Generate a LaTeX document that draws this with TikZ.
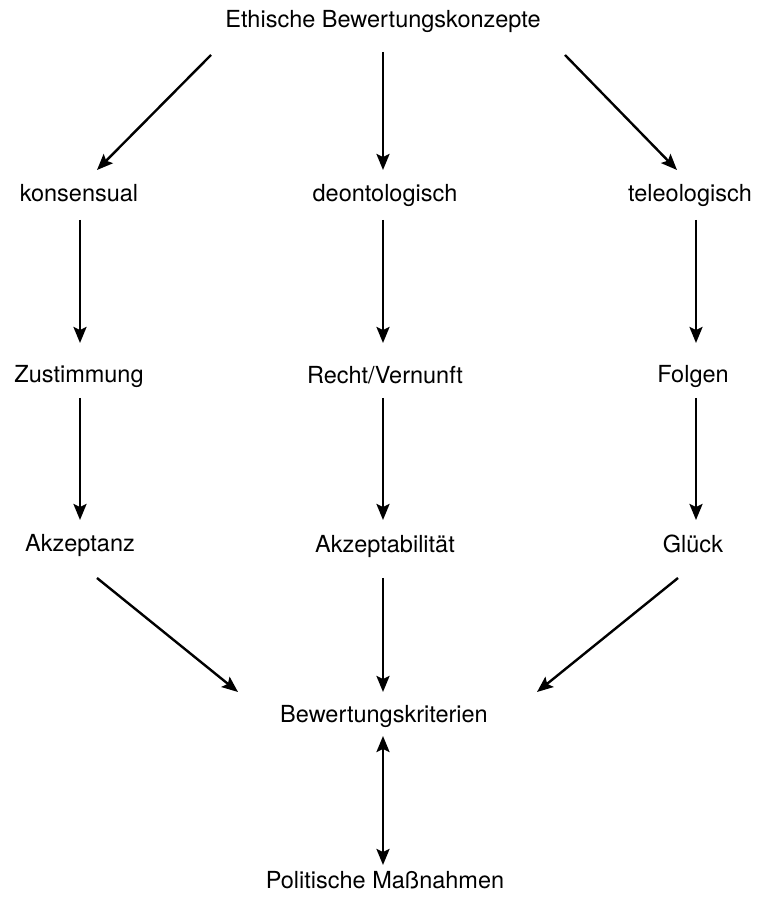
\documentclass[tikz,border=0pt]{standalone}
\usepackage{fontspec}
\setmainfont{TeX Gyre Heros}
\usetikzlibrary{arrows.meta,positioning,calc}

\begin{document}
\begin{tikzpicture}[x=1pt,y=1pt]
\tikzset{
    concept/.style={anchor=base,inner sep=0pt,outer sep=0pt,
        text height=17pt,text depth=5pt,font=\fontsize{23.5}{28}\selectfont},
    edge/.style={-{Stealth[length=16pt,width=13pt,inset=3pt]},line width=2.4pt},
    biedge/.style={{Stealth[length=16pt,width=13pt,inset=3pt]}-{Stealth[length=16pt,width=13pt,inset=3pt]},line width=2.4pt}
}
\useasboundingbox (0,0) rectangle (758,900);
  % vertices
\node[concept] (ethik) at (383,872.5) {Ethische Bewertungskonzepte};
\node[concept] (kons) at (79,698) {konsensual};
\node[concept] (deon) at (385,698) {deontologisch};
\node[concept] (tele) at (690,698) {teleologisch};
\node[concept] (zust) at (79,517) {Zustimmung};
\node[concept] (recht) at (385,516) {Recht/Vernunft};
\node[concept] (folg) at (693,517) {Folgen};
\node[concept] (akz) at (80,348) {Akzeptanz};
\node[concept] (akzb) at (385,347) {Akzeptabilität};
\node[concept] (glueck) at (693,347) {Glück};
\node[concept] (krit) at (384,177) {Bewertungskriterien};
\node[concept] (mass) at (385,12) {Politische Maßnahmen};
% edges
\draw[edge] ([shift={(-172,-27.5)}]ethik.base) -- ([shift={(18,32)}]kons.base);
\draw[edge] ([shift={(0,-24.5)}]ethik.base) -- ([shift={(-2,32)}]deon.base);
\draw[edge] ([shift={(182,-27.5)}]ethik.base) -- ([shift={(-13,32)}]tele.base);
\draw[edge] ([shift={(1,-18)}]kons.base) -- ([shift={(1,40)}]zust.base);
\draw[edge] ([shift={(-2,-18)}]deon.base) -- ([shift={(-2,41)}]recht.base);
\draw[edge] ([shift={(6,-18)}]tele.base) -- ([shift={(3,40)}]folg.base);
\draw[edge] ([shift={(1,-15)}]zust.base) -- ([shift={(0,32)}]akz.base);
\draw[edge] ([shift={(-2,-14)}]recht.base) -- ([shift={(-2,33)}]akzb.base);
\draw[edge] ([shift={(3,-15)}]folg.base) -- ([shift={(3,33)}]glueck.base);
\draw[edge] ([shift={(17,-26)}]akz.base) -- ([shift={(-146,31)}]krit.base);
\draw[edge] ([shift={(-2,-25)}]akzb.base) -- ([shift={(-1,31)}]krit.base);
\draw[edge] ([shift={(-15,-25)}]glueck.base) -- ([shift={(153,31)}]krit.base);
\draw[biedge] ([shift={(-1,-13)}]krit.base) -- ([shift={(-2,23)}]mass.base);
\end{tikzpicture}
\end{document}
